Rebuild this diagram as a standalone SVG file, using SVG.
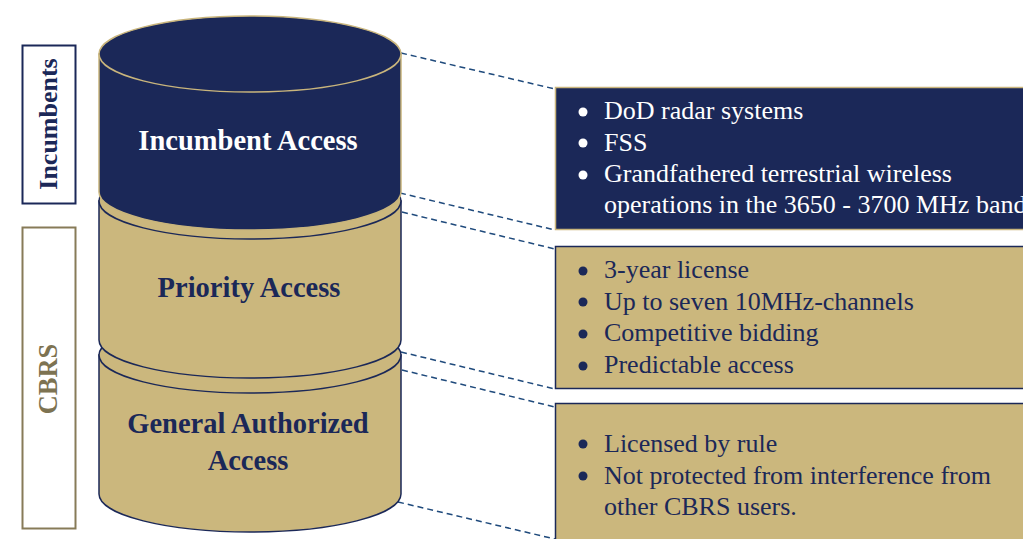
<svg xmlns="http://www.w3.org/2000/svg" width="1023" height="539" viewBox="0 0 1023 539">
<style>
.navyfill{fill:#1b2858;stroke:#c9b57c;stroke-width:1.5}
.goldfill{fill:#cbb77d;stroke:#1b2858;stroke-width:1.5}
.conn{stroke:#1f4a7c;stroke-width:1.5;stroke-dasharray:6 4;fill:none}
</style>
<rect width="1023" height="539" fill="#ffffff"/>
<g id="label-incumbents">
<rect x="22.5" y="45.5" width="53" height="158" fill="#ffffff" stroke="#1b2858" stroke-width="2"/>
<text font-family="Liberation Serif, serif" font-weight="bold" font-size="26" text-anchor="middle" fill="#1b2858" transform="translate(57,124) rotate(-90)">Incumbents</text>
</g>
<g id="label-cbrs">
<rect x="22.5" y="227.5" width="53" height="301" fill="#ffffff" stroke="#877b58" stroke-width="2"/>
<text font-family="Liberation Serif, serif" font-weight="bold" font-size="26.5" text-anchor="middle" fill="#7d7352" transform="translate(57,379) rotate(-90)">CBRS</text>
</g>
<g id="connectors">
<line class="conn" x1="401" y1="53" x2="555" y2="89"/>
<line class="conn" x1="400" y1="193" x2="555" y2="230"/>
<line class="conn" x1="402" y1="212" x2="555" y2="249"/>
<line class="conn" x1="401" y1="352" x2="555" y2="389"/>
<line class="conn" x1="402" y1="370" x2="555" y2="407"/>
<line class="conn" x1="398" y1="502" x2="555" y2="539"/>
</g>
<g id="cyl-gaa">
<path class="goldfill" d="M99,355 L99,494 A151,38 0 0 0 401,494 L401,355 Z"/>
<ellipse class="goldfill" cx="250" cy="355" rx="151" ry="38"/>
<g font-family="Liberation Serif, serif" font-weight="bold" font-size="28.5" text-anchor="middle" fill="#1b2858">
<text x="248" y="433">General Authorized</text>
<text x="248" y="470">Access</text>
</g>
</g>
<g id="cyl-priority">
<path class="goldfill" d="M99,201 L99,340 A151,38 0 0 0 401,340 L401,201 Z"/>
<ellipse class="goldfill" cx="250" cy="201" rx="151" ry="38"/>
<text font-family="Liberation Serif, serif" font-weight="bold" font-size="28.5" text-anchor="middle" fill="#1b2858" x="249" y="297">Priority Access</text>
</g>
<g id="cyl-incumbent">
<path class="navyfill" d="M99,54 L99,192 A151,38 0 0 0 401,192 L401,54 Z"/>
<ellipse class="navyfill" cx="250" cy="54" rx="151" ry="38"/>
<text font-family="Liberation Serif, serif" font-weight="bold" font-size="28.5" text-anchor="middle" fill="#ffffff" x="248" y="150">Incumbent Access</text>
</g>
<g id="box-incumbent">
<rect x="555.5" y="87.5" width="480" height="142" fill="#1b2858" stroke="#c9b57c" stroke-width="1.5"/>
<g fill="#ffffff" font-family="Liberation Serif, serif" font-size="26">
<circle cx="583" cy="112" r="4.5"/>
<circle cx="583" cy="143" r="4.5"/>
<circle cx="583" cy="175" r="4.5"/>
<text x="604" y="119">DoD radar systems</text>
<text x="604" y="151">FSS</text>
<text x="604" y="182">Grandfathered terrestrial wireless</text>
<text x="604" y="213">operations in the 3650 - 3700 MHz band</text>
</g>
</g>
<g id="box-priority">
<rect x="555.5" y="246.5" width="480" height="142" fill="#cbb77d" stroke="#1b2858" stroke-width="1.5"/>
<g fill="#1b2858" font-family="Liberation Serif, serif" font-size="26">
<circle cx="583" cy="271" r="4.5"/>
<circle cx="583" cy="302" r="4.5"/>
<circle cx="583" cy="334" r="4.5"/>
<circle cx="583" cy="366" r="4.5"/>
<text x="604" y="278">3-year license</text>
<text x="604" y="310">Up to seven 10MHz-channels</text>
<text x="604" y="341">Competitive bidding</text>
<text x="604" y="373">Predictable access</text>
</g>
</g>
<g id="box-gaa">
<rect x="555.5" y="403.5" width="480" height="150" fill="#cbb77d" stroke="#1b2858" stroke-width="1.5"/>
<g fill="#1b2858" font-family="Liberation Serif, serif" font-size="26">
<circle cx="583" cy="444" r="4.5"/>
<circle cx="583" cy="476" r="4.5"/>
<text x="604" y="452">Licensed by rule</text>
<text x="604" y="484">Not protected from interference from</text>
<text x="604" y="515">other CBRS users.</text>
</g>
</g>
</svg>
